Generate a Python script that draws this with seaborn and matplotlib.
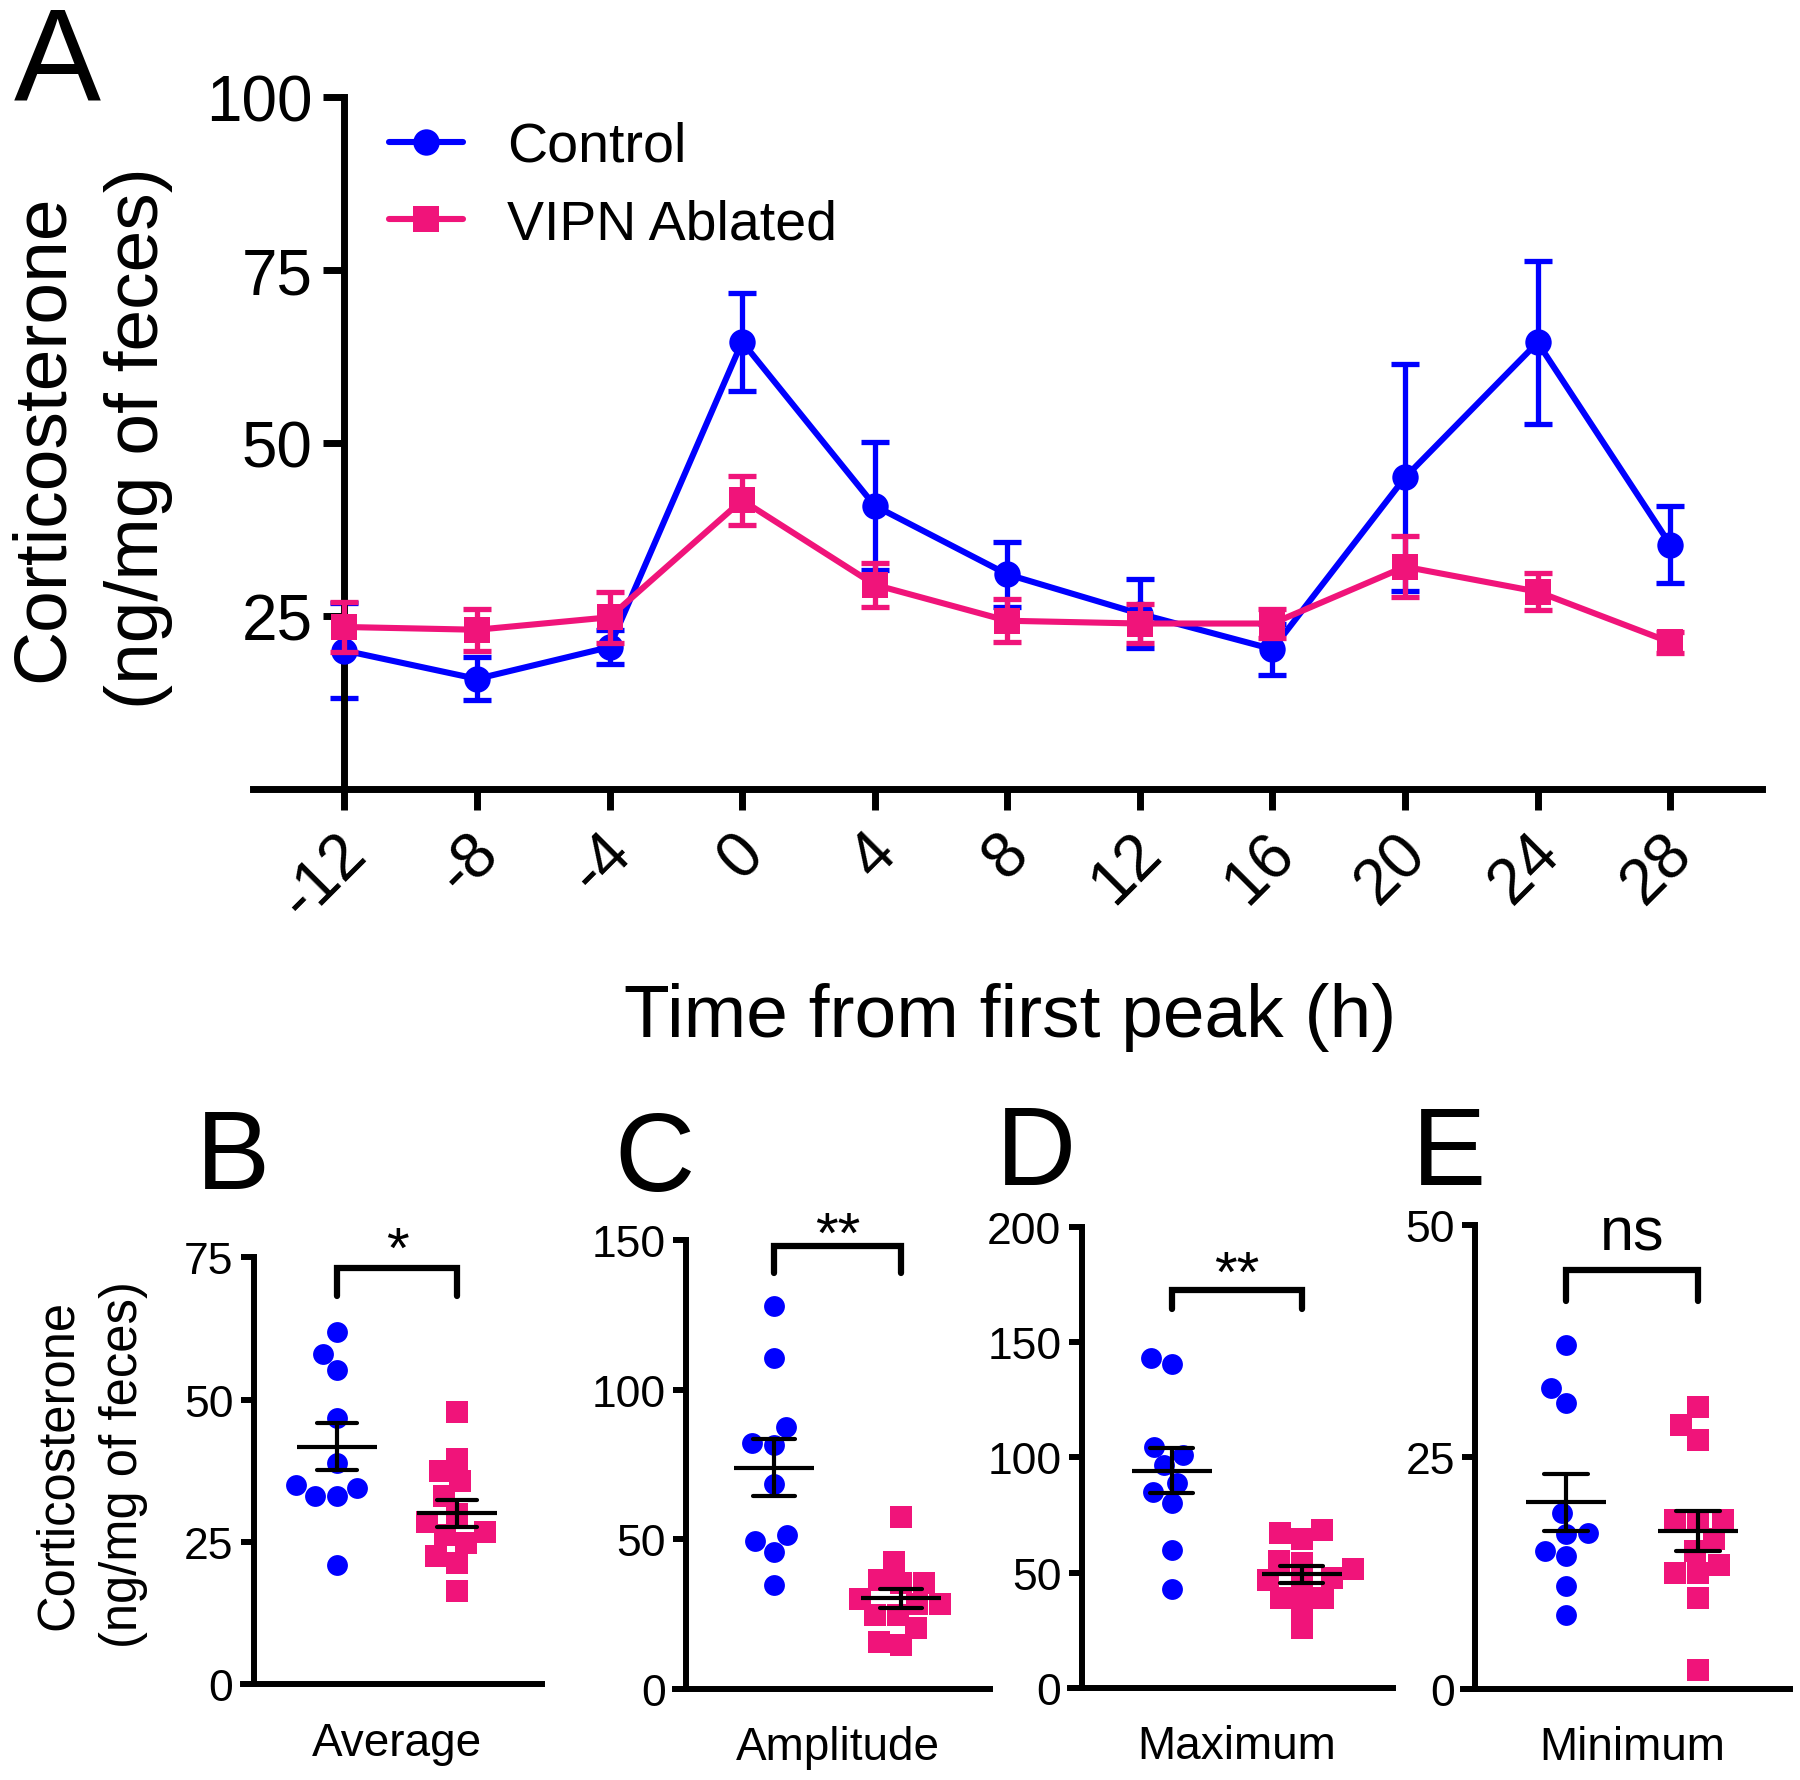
import matplotlib
matplotlib.use("Agg")
import matplotlib.pyplot as plt
import matplotlib.transforms as mtransforms
import pandas as pd
import seaborn as sns

# -----------------------------
# Data
# -----------------------------
hours = [-12, -8, -4, 0, 4, 8, 12, 16, 20, 24, 28]
ctrl_mean = [20.0, 15.9, 20.5, 64.6, 40.9, 31.0, 25.3, 20.2, 45.0, 64.5, 35.3]
ctrl_sem = [6.8, 3.1, 2.5, 7.1, 9.2, 4.7, 5.0, 3.7, 16.4, 11.8, 5.6]
vipn_mean = [23.4, 23.0, 24.8, 41.7, 29.5, 24.3, 23.9, 23.9, 32.1, 28.5, 21.2]
vipn_sem = [3.6, 3.0, 3.7, 3.5, 3.2, 3.1, 2.8, 2.1, 4.4, 2.7, 1.5]

groups = ["Control", "VIPN Ablated"]

avg_ctrl = [61.9, 58.1, 55.2, 46.8, 38.8, 35.0, 33.1, 33.1, 34.5, 20.9]
avg_vipn = [47.8, 39.6, 37.4, 35.8, 33.1, 30.0, 28.5, 26.7, 26.3, 24.8, 22.5, 21.3, 16.4]

amp_ctrl = [128.0, 110.4, 87.4, 82.2, 81.6, 68.6, 49.3, 51.4, 45.7, 34.8]
amp_vipn = [57.5, 42.3, 35.5, 35.5, 36.2, 28.3, 28.3, 24.6, 24.6, 20.3, 14.8, 15.5, 30.0]

max_ctrl = [140.4, 143.0, 101.2, 104.4, 96.5, 89.0, 84.9, 80.2, 59.8, 42.9]
max_vipn = [67.4, 64.5, 68.3, 54.2, 55.1, 51.4, 47.6, 44.8, 39.1, 39.1, 35.4, 26.0, 46.7]

min_ctrl = [37.1, 32.4, 30.8, 18.9, 16.8, 16.7, 14.8, 14.3, 11.1, 7.9]
min_vipn = [30.4, 28.4, 26.8, 18.2, 18.2, 18.1, 16.1, 14.8, 13.3, 12.5, 12.5, 9.8, 2.0]

blue = "#0000FF"
pink = "#F0147A"

sns.set_style("ticks")
plt.rcParams["font.family"] = ["Liberation Sans", "DejaVu Sans"]
plt.rcParams["axes.unicode_minus"] = False
for key in ["text.color", "axes.edgecolor", "axes.labelcolor",
            "xtick.color", "ytick.color"]:
    plt.rcParams[key] = "black"

W, H = 1800, 1781
fig = plt.figure(figsize=(W / 100, H / 100), dpi=100)


def px_axes(left, top, right, bottom):
    return fig.add_axes([left / W, 1 - bottom / H, (right - left) / W, (bottom - top) / H])


def fig_text(x, y, s, **kw):
    return fig.text(x / W, 1 - y / H, s, **kw)


# -----------------------------
# Panel A: time course
# -----------------------------
axA = px_axes(252.6, 97.6, 1762, 790)

axA.errorbar(hours, ctrl_mean, yerr=ctrl_sem, fmt="none", ecolor=blue,
             elinewidth=3.8, capsize=10, capthick=3.8, zorder=2)
sns.lineplot(x=hours, y=ctrl_mean, ax=axA, color=blue, lw=4.4, marker="o",
             markersize=19, markeredgewidth=0, label="Control", zorder=3)
axA.errorbar(hours, vipn_mean, yerr=vipn_sem, fmt="none", ecolor=pink,
             elinewidth=3.8, capsize=10, capthick=3.8, zorder=4)
sns.lineplot(x=hours, y=vipn_mean, ax=axA, color=pink, lw=4.4, marker="s",
             markersize=19, markeredgewidth=0, label="VIPN Ablated", zorder=5)

sns.despine(ax=axA)
axA.set_xlim(-14.77, 30.77)
axA.set_ylim(0, 100)
axA.spines["left"].set_position(("data", -12))
axA.spines["left"].set_bounds(0, 100)
for s in ["left", "bottom"]:
    axA.spines[s].set_linewidth(5)
axA.set_xticks(hours)
axA.set_yticks([25, 50, 75, 100])
axA.tick_params(width=5, length=15, labelsize=46)
axA.tick_params(axis="y", pad=8)
axA.tick_params(axis="x", pad=24)
axA.set_xlabel("")
axA.set_ylabel("")
shift = mtransforms.ScaledTranslation(12 / 100, 0, fig.dpi_scale_trans)
for lbl in axA.get_xticklabels():
    lbl.set_rotation(45)
    lbl.set_ha("right")
    lbl.set_va("center")
    lbl.set_rotation_mode("anchor")
    lbl.set_transform(lbl.get_transform() + shift)

axA.legend(loc="upper left", bbox_to_anchor=(389 / W, 1 - 122 / H),
           bbox_transform=fig.transFigure, frameon=False, fontsize=40,
           handlelength=1.33, handletextpad=0.8, borderpad=0,
           borderaxespad=0, labelspacing=0.45)

fig_text(63, 438, "Corticosterone", rotation=90, rotation_mode="anchor",
         ha="center", va="baseline", fontsize=54)
fig_text(158, 438, "(ng/mg of feces)", rotation=90, rotation_mode="anchor",
         ha="center", va="baseline", fontsize=54)
fig_text(1010, 1037, "Time from first peak (h)", ha="center", va="baseline",
         fontsize=54)
fig_text(14, 101, "A", ha="left", va="baseline", fontsize=94)

# -----------------------------
# Panels B-E: scatter with mean +/- SEM
# -----------------------------
panels = [
    ("B", "Average", avg_ctrl, avg_vipn, [0, 25, 50, 75],
     (242.7, 1258.3, 541.7, 1685.4), "*", 73.1, 68.2, 78.4, 1189, 196),
    ("C", "Amplitude", amp_ctrl, amp_vipn, [0, 50, 100, 150],
     (675, 1240.9, 990, 1689.8), "**", 147.8, 139.1, 155.8, 1191, 614),
    ("D", "Maximum", max_ctrl, max_vipn, [0, 50, 100, 150, 200],
     (1070, 1227.9, 1393, 1688.9), "**", 172.7, 164.3, 185.0, 1185, 996),
    ("E", "Minimum", min_ctrl, min_vipn, [0, 25, 50],
     (1463.3, 1225.8, 1790, 1689.8), "ns", 45.1, 41.8, 49.1, 1185, 1412),
]

for letter, cat, c_vals, v_vals, yticks, rect, sig, br_top, br_leg, sig_y, let_y, let_x in panels:
    ax = px_axes(*rect)
    df = pd.DataFrame({
        "group": [groups[0]] * len(c_vals) + [groups[1]] * len(v_vals),
        "value": c_vals + v_vals,
    })
    sns.swarmplot(data=df[df.group == groups[0]], x="group", y="value",
                  order=groups, color=blue, marker="o", size=15, ax=ax)
    sns.swarmplot(data=df[df.group == groups[1]], x="group", y="value",
                  order=groups, color=pink, marker="s", size=15.5, ax=ax)
    sns.pointplot(data=df, x="group", y="value", order=groups, errorbar="se",
                  color="black", marker="_", markersize=58, markeredgewidth=3,
                  linestyle="none", capsize=0.33, err_kws={"linewidth": 3},
                  ax=ax)
    # mean / SEM lines sit on top of the points
    for line in ax.lines:
        line.set_zorder(10)

    ymax = yticks[-1]
    sns.despine(ax=ax)
    ax.set_xlim(-0.78, 1.70)
    ax.set_ylim(0, ymax)
    ax.spines["left"].set_position(("data", -0.69))
    ax.spines["left"].set_bounds(0, ymax)
    for s in ["left", "bottom"]:
        ax.spines[s].set_linewidth(4.3)
    ax.set_yticks(yticks)
    ax.set_xticks([0.5], [cat])
    ax.tick_params(axis="x", length=0, pad=26, labelsize=33)
    ax.tick_params(axis="y", length=9.6, width=4.3, labelsize=32, pad=5)
    ax.set_xlabel("")
    ax.set_ylabel("")

    # significance bracket
    ax.plot([0, 0, 1, 1], [br_leg, br_top, br_top, br_leg], color="black",
            lw=4.5, clip_on=False, solid_joinstyle="miter")
    fs = 44 if sig == "ns" else 42
    drop = 0.26 if sig == "ns" else 0.5
    off = mtransforms.ScaledTranslation(0, -drop * fs / 72, fig.dpi_scale_trans)
    ax.text(0.5, sig_y, sig, ha="center", va="baseline", fontsize=fs,
            transform=ax.transData + off, clip_on=False)

    fig_text(let_x, let_y, letter, ha="left", va="baseline", fontsize=80)

fig_text(71.7, 1465, "Corticosterone", rotation=90, rotation_mode="anchor",
         ha="center", va="baseline", fontsize=36.5)
fig_text(136.7, 1465, "(ng/mg of feces)", rotation=90, rotation_mode="anchor",
         ha="center", va="baseline", fontsize=36.5)

fig.savefig("out.png", dpi=100)
